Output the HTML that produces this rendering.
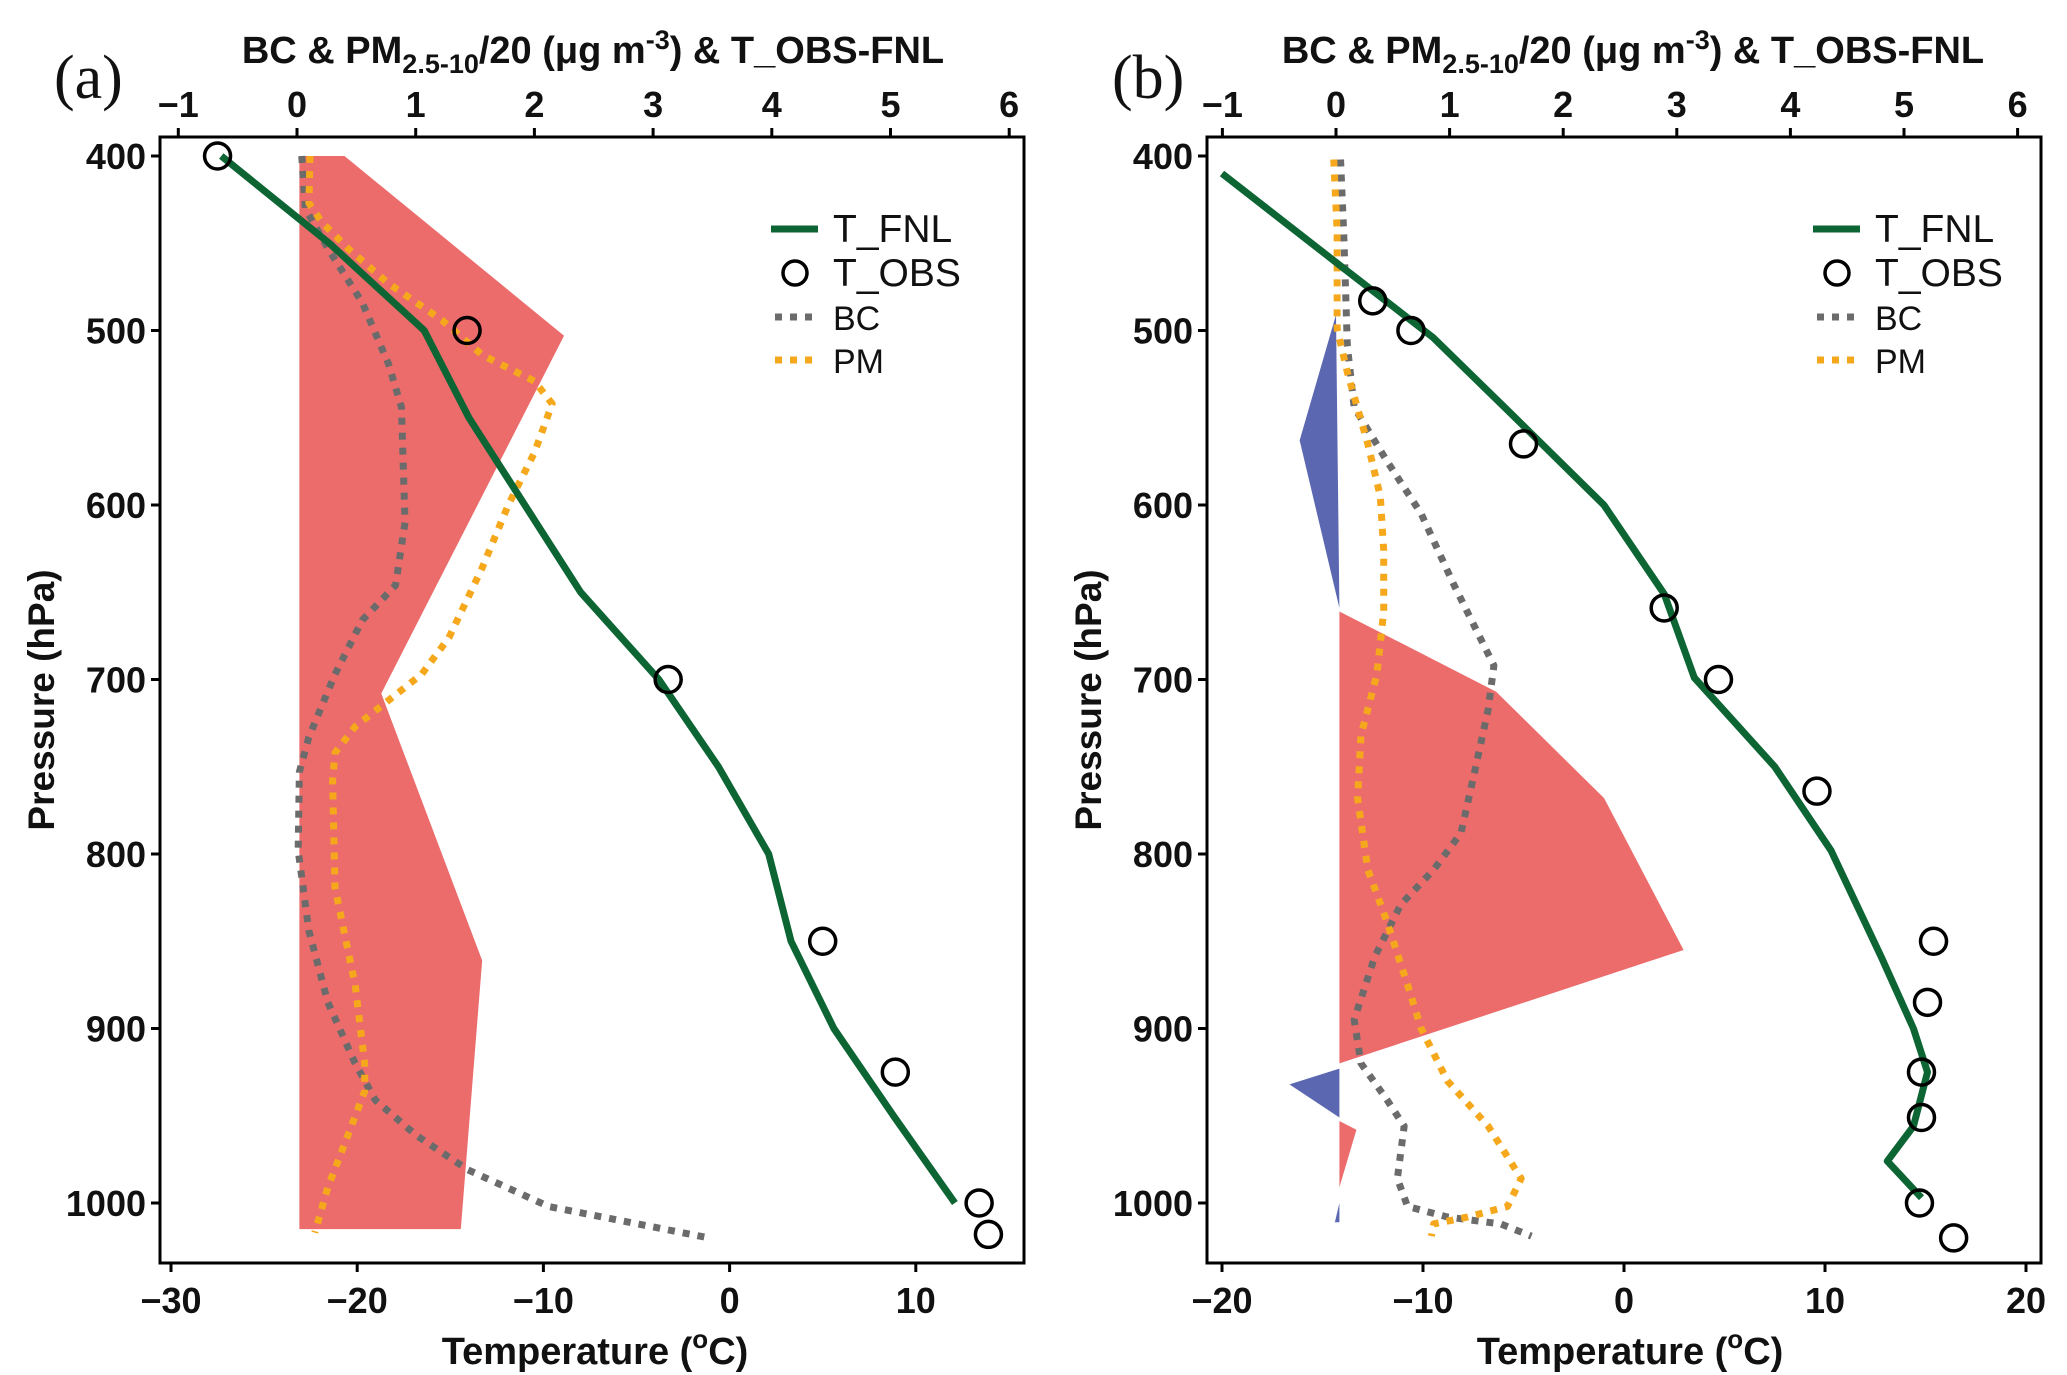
<!DOCTYPE html>
<html><head><meta charset="utf-8"><style>
html,body{margin:0;padding:0;background:#fff}
svg{display:block}
text{font-family:"Liberation Sans",Arial,sans-serif;font-weight:bold;fill:#111}
</style></head><body>
<svg id="svg" width="2067" height="1375" viewBox="0 0 2067 1375" xmlns="http://www.w3.org/2000/svg"></svg>
<script>
// ---------- data ----------
const pressureTicks=[400,500,600,700,800,900,1000];
const topTicksA=[-1,0,1,2,3,4,5,6];
const botTicksA=[-30,-20,-10,0,10];
const botTicksB=[-20,-10,0,10,20];
// panel a
const aFnlP=[400,450,500,550,600,650,700,750,800,850,900,925,950,1000];
const aFnlT=[-27.3,-21.5,-16.4,-14.0,-11.0,-8.0,-3.8,-0.6,2.1,3.3,5.6,7.2,8.8,12.1];
const aObsP=[400,500,700,850,925,1000,1018];
const aObsT=[-27.5,-14.1,-3.3,5.0,8.9,13.4,13.9];
const aBcP=[400,430,453,484,519,544,610,646,666,697,733,753,798,844,885,920,941,961,981,1002,1020];
const aBcV=[0.04,0.07,0.26,0.55,0.77,0.88,0.91,0.83,0.55,0.32,0.1,0.02,0.01,0.1,0.26,0.49,0.66,1.0,1.44,2.12,3.47];
const aPmP=[400,427,438,453,473,494,514,529,542,570,600,636,676,697,712,727,742,758,819,849,875,920,936,961,991,1017];
const aPmV=[0.11,0.1,0.21,0.43,0.77,1.22,1.56,2.0,2.15,2.0,1.78,1.56,1.28,1.05,0.77,0.49,0.32,0.3,0.32,0.41,0.49,0.57,0.57,0.43,0.26,0.15];
const aDiffP=[400,400,503,708,861,1015,1015];
const aDiffV=[0.02,0.4,2.25,0.71,1.56,1.38,0.02];
// panel b
const bFnlP=[410,463,504,549,600,651,699,750,798,859,900,925,956,976,997];
const bFnlT=[-20,-14.1,-9.5,-5.5,-1.0,2.0,3.5,7.5,10.3,12.8,14.4,15.1,14.4,13.1,14.8];
const bObsP=[483,500,565,659,700,764,850,885,925,951,1000,1020];
const bObsT=[-12.5,-10.6,-5.0,2.0,4.7,9.6,15.4,15.1,14.8,14.8,14.7,16.4];
const bBcP=[402,448,509,544,575,605,646,692,717,753,788,809,829,859,895,920,941,956,986,1002,1008,1012,1019];
const bBcV=[0.04,0.07,0.1,0.16,0.45,0.75,1.04,1.39,1.34,1.22,1.1,0.86,0.57,0.34,0.16,0.22,0.45,0.6,0.54,0.63,0.98,1.45,1.72];
const bPmP=[402,443,499,524,565,595,626,661,697,732,768,809,839,875,900,930,956,986,1002,1008,1012,1019];
const bPmV=[-0.02,0.01,0.01,0.1,0.28,0.39,0.42,0.42,0.36,0.22,0.19,0.28,0.45,0.63,0.75,0.98,1.34,1.63,1.51,1.16,0.86,0.84];
const bNeg1P=[491,563,659,659];
const bNeg1V=[0.0,-0.32,0.03,0.03];
const bPos1P=[661,707,768,855,920];
const bPos1V=[0.03,1.41,2.36,3.06,0.03];
const bNeg2P=[923,932,951];
const bNeg2V=[0.03,-0.41,0.03];
const bPos2P=[953,958,991];
const bPos2V=[0.03,0.18,0.03];
const bNeg3P=[1000,1011,1011];
const bNeg3V=[0.03,-0.01,0.03];

// ---------- drawing ----------
const NS='http://www.w3.org/2000/svg';
const svg=document.getElementById('svg');
function el(tag,attrs,parent){const e=document.createElementNS(NS,tag);for(const k in attrs)e.setAttribute(k,attrs[k]);(parent||svg).appendChild(e);return e;}
const yP=p=>156+(p-400)*1.745;

function panel(cfg){
  const g=el('g',{});
  
  
  const xT=t=>cfg.t0+(t-cfg.tmin)*cfg.tScale;
  const xU=u=>cfg.u0+u*cfg.uScale;
  const poly=(P,V,fill,name)=>{const e=el('polygon',{points:P.map((p,i)=>xU(V[i])+','+yP(p)).join(' '),fill:fill},g);
    
    };
  cfg.fills.forEach(f=>poly(f[0],f[1],f[2],f[3]));
  const line=(P,X,stroke,dash,name)=>{const a={points:P.map((p,i)=>X(i)+','+yP(p)).join(' '),fill:'none',stroke:stroke,'stroke-width':7,'stroke-linejoin':'round'};if(dash)a['stroke-dasharray']=dash;const e=el('polyline',a,g);
    
    };
  line(cfg.bcP,i=>xU(cfg.bcV[i]),'#6b6b6b','7 8','bc-line');
  line(cfg.pmP,i=>xU(cfg.pmV[i]),'#f5a81c','7 8','pm-line');
  line(cfg.fnlP,i=>xT(cfg.fnlT[i]),'#0d6534',null,'t-fnl-line');
  cfg.obsP.forEach((p,i)=>{const c=el('circle',{cx:xT(cfg.obsT[i]),cy:yP(p),r:13,fill:'none',stroke:'#000','stroke-width':3.5},g);
    
    });
  const fr=el('rect',{x:cfg.L,y:137,width:cfg.R-cfg.L,height:1263-137,fill:'none',stroke:'#000','stroke-width':3},g);
  
  
  pressureTicks.forEach(p=>{el('line',{x1:cfg.L-9,x2:cfg.L,y1:yP(p),y2:yP(p),stroke:'#000','stroke-width':3},g);
    const t=el('text',{x:cfg.L-14,y:yP(p)+13,'font-size':36,'text-anchor':'end'},g);t.textContent=p;
    
    });
  cfg.botTicks.forEach(v=>{const x=xT(v);el('line',{x1:x,x2:x,y1:1263,y2:1272,stroke:'#000','stroke-width':3},g);
    const t=el('text',{x:x,y:1313,'font-size':36,'text-anchor':'middle'},g);t.textContent=String(v).replace('-','\u2212');
    
    });
  topTicksA.forEach(v=>{const x=xU(v);el('line',{x1:x,x2:x,y1:128,y2:137,stroke:'#000','stroke-width':3},g);
    const t=el('text',{x:x,y:117,'font-size':36,'text-anchor':'middle'},g);t.textContent=String(v).replace('-','\u2212');
    
    });
  const tt=el('text',{x:cfg.topC,y:63,'font-size':38,'text-anchor':'middle'},g);
  tt.innerHTML='BC &amp; PM<tspan font-size="27" dy="10">2.5-10</tspan><tspan dy="-10">/20 (\u03bcg m</tspan><tspan font-size="27" dy="-14">-3</tspan><tspan dy="14">) &amp; T_OBS-FNL</tspan>';
  
  
  const bt=el('text',{x:cfg.botC,y:1364,'font-size':38,'text-anchor':'middle'},g);
  bt.innerHTML='Temperature (<tspan font-size="26" dy="-16">o</tspan><tspan dy="16">C)</tspan>';
  
  
  const yt=el('text',{x:0,y:0,'font-size':37,'text-anchor':'middle',transform:`translate(${cfg.L-106},700) rotate(-90)`},g);
  yt.textContent='Pressure (hPa)';
  
  
  const lab=el('text',{x:cfg.labX,y:98,'font-size':62,'text-anchor':'start',style:'font-family:"Liberation Serif",serif;font-weight:normal'},g);
  lab.textContent=cfg.label;
  
  
  const lg=el('g',{},g);
  
  
  const lx=cfg.legX;
  el('line',{x1:lx,x2:lx+47,y1:229,y2:229,stroke:'#0d6534','stroke-width':7},lg);
  el('circle',{cx:lx+24,cy:273,r:12,fill:'none',stroke:'#000','stroke-width':3.5},lg);
  el('line',{x1:lx+4,x2:lx+47,y1:317,y2:317,stroke:'#6b6b6b','stroke-width':7,'stroke-dasharray':'7 8'},lg);
  el('line',{x1:lx+4,x2:lx+47,y1:360,y2:360,stroke:'#f5a81c','stroke-width':7,'stroke-dasharray':'7 8'},lg);
  [['T_FNL',242,39],['T_OBS',286,39],['BC',330,34],['PM',373,34]].forEach(d=>{const t=el('text',{x:lx+62,y:d[1],'font-size':d[2],style:'font-weight:normal'},lg);t.textContent=d[0];
    
    });
}

panel({name:'panel-a',label:'(a)',labX:54,L:160,R:1024,t0:171,tmin:-30,tScale:18.62,u0:297,uScale:118.7,
  botTicks:botTicksA,topC:593,botC:595,legX:771,
  fnlP:aFnlP,fnlT:aFnlT,obsP:aObsP,obsT:aObsT,bcP:aBcP,bcV:aBcV,pmP:aPmP,pmV:aPmV,
  fills:[[aDiffP,aDiffV,'#ec6c6c','diff-fill']]});
panel({name:'panel-b',label:'(b)',labX:1112,L:1207,R:2041,t0:1222,tmin:-20,tScale:20.1,u0:1336,uScale:113.6,
  botTicks:botTicksB,topC:1633,botC:1630,legX:1813,
  fnlP:bFnlP,fnlT:bFnlT,obsP:bObsP,obsT:bObsT,bcP:bBcP,bcV:bBcV,pmP:bPmP,pmV:bPmV,
  fills:[[bNeg1P,bNeg1V,'#5b67b0','diff-neg-fill'],[bPos1P,bPos1V,'#ec6c6c','diff-pos-fill'],[bNeg2P,bNeg2V,'#5b67b0','diff-neg-fill'],[bPos2P,bPos2V,'#ec6c6c','diff-pos-fill'],[bNeg3P,bNeg3V,'#5b67b0','diff-neg-fill']]});
</script>
</body></html>
